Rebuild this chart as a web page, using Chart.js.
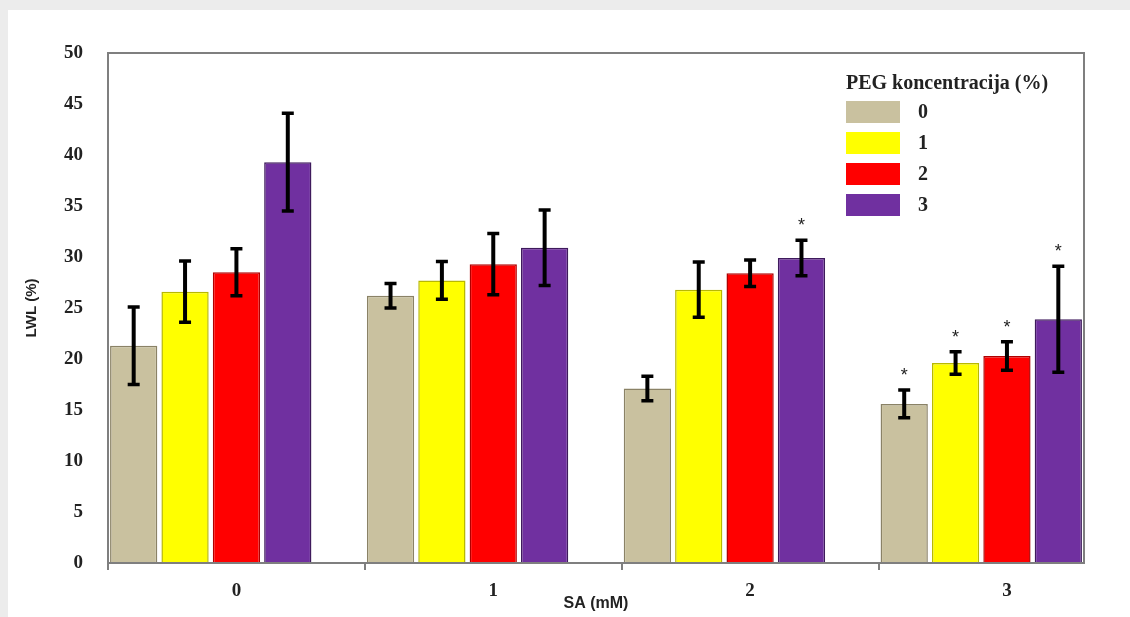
<!DOCTYPE html>
<html>
<head>
<meta charset="utf-8">
<script src="https://cdn.jsdelivr.net/npm/chart.js@4.4.1/dist/chart.umd.min.js"></script>
<style>
    html, body { margin: 0; padding: 0; background: #ececec; overflow: hidden; }
    #card { position: absolute; left: 8px; top: 10px; width: 1122px; height: 607px; background: #fff; }
    #legend { position: absolute; left: 838px; top: 60px; font-family: "Liberation Serif", serif; font-weight: bold; color: #222; }
    #legend .title { font-size: 20px; line-height: 24px; margin-bottom: 2px; }
    #legend .row { display: flex; align-items: center; height: 31px; }
    #legend .box { width: 54px; height: 22px; margin-right: 18px; }
    #legend .label { font-size: 20px; }
</style>
</head>
<body>
<div id="card">
    <canvas id="lwlChart"></canvas>
    <div id="legend"></div>
</div>
<script>
const categories = ['0', '1', '2', '3'];
const seriesLabels = ['0', '1', '2', '3'];
const peg0 = [21.3, 26.2, 17.1, 15.6];
const peg1 = [26.6, 27.7, 26.8, 19.6];
const peg2 = [28.5, 29.3, 28.4, 20.3];
const peg3 = [39.3, 30.9, 29.9, 23.9];
const err0 = [3.8, 1.2, 1.2, 1.35];
const err1 = [3.0, 1.85, 2.7, 1.1];
const err2 = [2.3, 3.0, 1.3, 1.4];
const err3 = [4.8, 3.7, 1.75, 5.2];
const star0 = [false, false, false, true];
const star1 = [false, false, false, true];
const star2 = [false, false, false, true];
const star3 = [false, false, true, true];
const yTicks = [0, 5, 10, 15, 20, 25, 30, 35, 40, 45, 50];

const seriesValues = [peg0, peg1, peg2, peg3];
const seriesErrors = [err0, err1, err2, err3];
const seriesStars = [star0, star1, star2, star3];
const fills = ['#c9c19f', '#ffff00', '#ff0000', '#7030a0'];
const edges = ['#8a8266', '#b8b800', '#b00000', '#3e1a5c'];

// each group: 4 bars + one empty slot; the last group is cut right after its bars
const visibleCategories = categories.length - 1 + seriesValues.length / (seriesValues.length + 1);

const cropLastGroup = {
    id: 'cropLastGroup',
    afterLayout(chart) {
        chart.scales.x._valueRange = visibleCategories;
    }
};

const plotBox = {
    id: 'plotBox',
    afterDraw(chart) {
        const a = chart.chartArea;
        const ctx = chart.ctx;
        ctx.save();
        ctx.strokeStyle = '#7f7f7f';
        ctx.lineWidth = 2;
        ctx.strokeRect(a.left, a.top, a.right - a.left, a.bottom - a.top);
        ctx.restore();
    }
};

const errorBars = {
    id: 'errorBars',
    afterDatasetsDraw(chart) {
        const ctx = chart.ctx;
        const y = chart.scales.y;
        ctx.save();
        ctx.strokeStyle = '#000';
        ctx.fillStyle = '#222';
        ctx.font = '18px "Liberation Sans"';
        ctx.textAlign = 'center';
        ctx.textBaseline = 'middle';
        seriesValues.forEach(function(values, i) {
            const bars = chart.getDatasetMeta(i).data;
            values.forEach(function(v, j) {
                const bx = bars[j].x;
                const top = y.getPixelForValue(v + seriesErrors[i][j]);
                const bottom = y.getPixelForValue(v - seriesErrors[i][j]);
                ctx.lineWidth = 4;
                ctx.beginPath();
                ctx.moveTo(bx, top);
                ctx.lineTo(bx, bottom);
                ctx.stroke();
                ctx.lineWidth = 3.5;
                ctx.beginPath();
                ctx.moveTo(bx - 6, top);
                ctx.lineTo(bx + 6, top);
                ctx.moveTo(bx - 6, bottom);
                ctx.lineTo(bx + 6, bottom);
                ctx.stroke();
                if (seriesStars[i][j]) {
                    ctx.fillText('*', bx, top - 14);
                }
            });
        });
        ctx.restore();
    }
};

const datasets = seriesValues.map(function(values, i) {
    return {
        label: seriesLabels[i],
        data: values,
        backgroundColor: fills[i],
        borderColor: edges[i],
        borderWidth: 1.5,
        categoryPercentage: 1,
        barPercentage: 0.92
    };
});
// empty slot that makes the gap after each group
datasets.push({ label: '', data: new Array(categories.length).fill(null), categoryPercentage: 1, barPercentage: 0.92 });

const ctx = document.getElementById('lwlChart').getContext('2d');
const chart = new Chart(ctx, {
    type: 'bar',
    data: { labels: categories, datasets: datasets },
    plugins: [cropLastGroup, plotBox, errorBars],
    options: {
        responsive: true,
        maintainAspectRatio: false,
        animation: false,
        layout: { padding: { top: 43, right: 46, bottom: 0, left: 0 } },
        plugins: { legend: { display: false }, tooltip: { enabled: false } },
        scales: {
            x: {
                afterFit: function(scale) { scale.height = 54; },
                grid: { drawOnChartArea: false, drawTicks: true, tickLength: 7, color: '#7f7f7f', lineWidth: 2 },
                border: { color: '#7f7f7f', width: 2 },
                ticks: { padding: 10, color: '#222', font: { family: '"Liberation Serif"', size: 19, weight: 'bold' } },
                title: { display: true, text: 'SA (mM)', color: '#222', padding: { top: 0, bottom: 4 },
                         font: { family: '"Liberation Sans"', size: 16, weight: 'bold' } }
            },
            y: {
                min: 0,
                max: 50,
                afterFit: function(scale) { scale.width = 100; },
                afterBuildTicks: function(scale) { scale.ticks = yTicks.map(function(v) { return { value: v }; }); },
                grid: { display: false, drawTicks: false },
                border: { color: '#7f7f7f', width: 2 },
                ticks: { padding: 25, color: '#222', font: { family: '"Liberation Serif"', size: 19, weight: 'bold' } },
                title: { display: true, text: 'LWL (%)', color: '#222', padding: { top: 15, bottom: 0 },
                         font: { family: '"Liberation Sans"', size: 15, weight: 'bold' } }
            }
        }
    }
});

const legend = document.getElementById('legend');
legend.innerHTML = '<div class="title">PEG koncentracija (%)</div>' + seriesLabels.map(function(l, i) {
    return '<div class="row"><span class="box" style="background:' + fills[i] + '"></span><span class="label">' + l + '</span></div>';
}).join('');
</script>
</body>
</html>
